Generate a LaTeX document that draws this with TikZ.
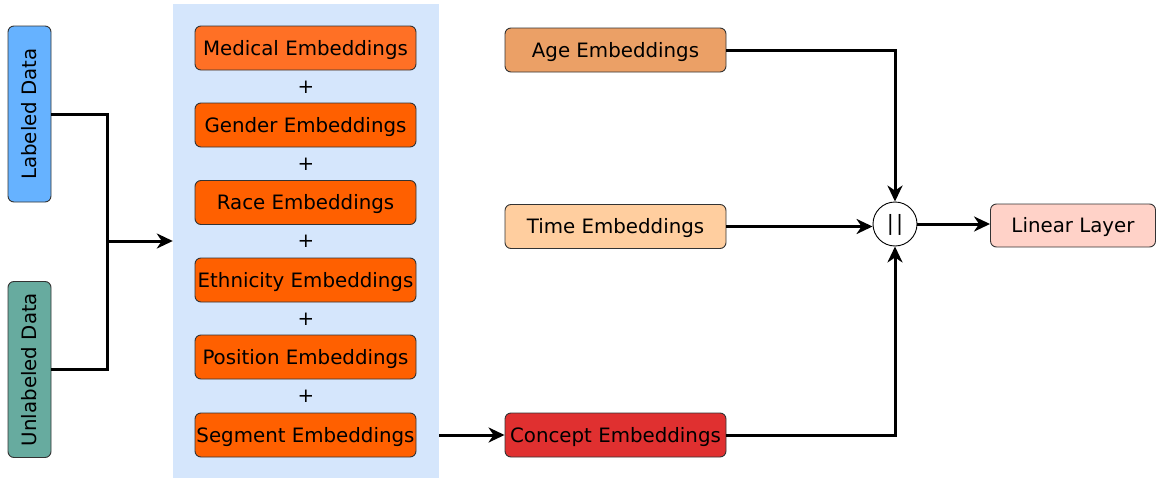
\documentclass[tikz,border=0pt]{standalone}
\usepackage{fontspec}
\setmainfont{DejaVu Sans}
\usetikzlibrary{arrows.meta}
\definecolor{cPanel}{HTML}{D5E6FC}
\definecolor{cMed}{HTML}{FF7025}
\definecolor{cOr}{HTML}{FF6000}
\definecolor{cAge}{HTML}{EBA066}
\definecolor{cTime}{HTML}{FFCE9F}
\definecolor{cConc}{HTML}{E03030}
\definecolor{cLin}{HTML}{FFD2C8}
\definecolor{cLab}{HTML}{66B2FF}
\definecolor{cUnl}{HTML}{67AB9F}
\definecolor{cBord}{HTML}{333333}
\begin{document}
\begin{tikzpicture}[x=1pt,y=-1pt,
  every node/.style={font=\fontsize{19.8}{24}\selectfont, inner sep=0pt, text height=14.5pt, text depth=0pt},
  box/.style={draw=cBord, line width=0.9pt, rounded corners=6pt, minimum height=44pt, minimum width=221pt},
  vbox/.style={draw=cBord, line width=0.9pt, rounded corners=6pt, minimum height=43pt, minimum width=176pt, rotate=90},
  conn/.style={line width=3pt, draw=black},
  arr/.style={conn, -{Stealth[length=16pt,width=15pt,inset=5pt]}},
  plus/.style={font=\fontsize{19.8}{24}\selectfont, text height=13pt}
]
\useasboundingbox (0,0) rectangle (1156,479);
% panel
\node[fill=cPanel, minimum width=266pt, minimum height=474pt] (panel) at (306,241) {};
% left data boxes
\node[vbox, fill=cLab] (lab) at (29.5,114) {Labeled Data};
\node[vbox, fill=cUnl] (unl) at (29.5,369.5) {Unlabeled Data};
% embeddings stack
\node[box, fill=cMed] (med) at (305.5,48) {Medical Embeddings};
\node[box, fill=cOr] (gen) at (305.5,125) {Gender Embeddings};
\node[box, fill=cOr] (race) at (305.5,202.5) {Race Embeddings};
\node[box, fill=cOr] (eth) at (305.5,280) {Ethnicity Embeddings};
\node[box, fill=cOr] (pos) at (305.5,357) {Position Embeddings};
\node[box, fill=cOr] (seg) at (305.5,435) {Segment Embeddings};
\node[plus] (p1) at (306,86.5) {+};
\node[plus] (p2) at (306,164) {+};
\node[plus] (p3) at (306,241) {+};
\node[plus] (p4) at (306,318.5) {+};
\node[plus] (p5) at (306,396) {+};
% right column
\node[box, fill=cAge] (age) at (615.5,50) {Age Embeddings};
\node[box, fill=cTime] (time) at (615.5,226.5) {Time Embeddings};
\node[box, fill=cConc] (conc) at (615.5,435) {Concept Embeddings};
\node[draw=black, line width=0.9pt, fill=white, circle, minimum size=44pt, font=\fontsize{21}{24}\selectfont, text height=14pt, text depth=2pt] (cat) at (895,224) {|\kern2pt|};
\node[draw=cBord, line width=0.9pt, rounded corners=6pt, fill=cLin, minimum width=165pt, minimum height=43pt] (lin) at (1073,225.5) {Linear Layer};
% connectors
\coordinate (j) at (107,241);
\draw[conn] (lab.south) -| (j);
\draw[conn] (unl.south) -| (j);
\draw[arr] (j) -- (panel.west);
\draw[arr] (panel.east |- seg.east) -- (conc.west);
\draw[arr] (age.east) -| (cat.north);
\draw[arr] (time.east) -- (time.east -| cat.west);
\draw[arr] (conc.east) -| (cat.south);
\draw[arr] (cat.east) -- (cat.east -| lin.west);
\end{tikzpicture}
\end{document}
